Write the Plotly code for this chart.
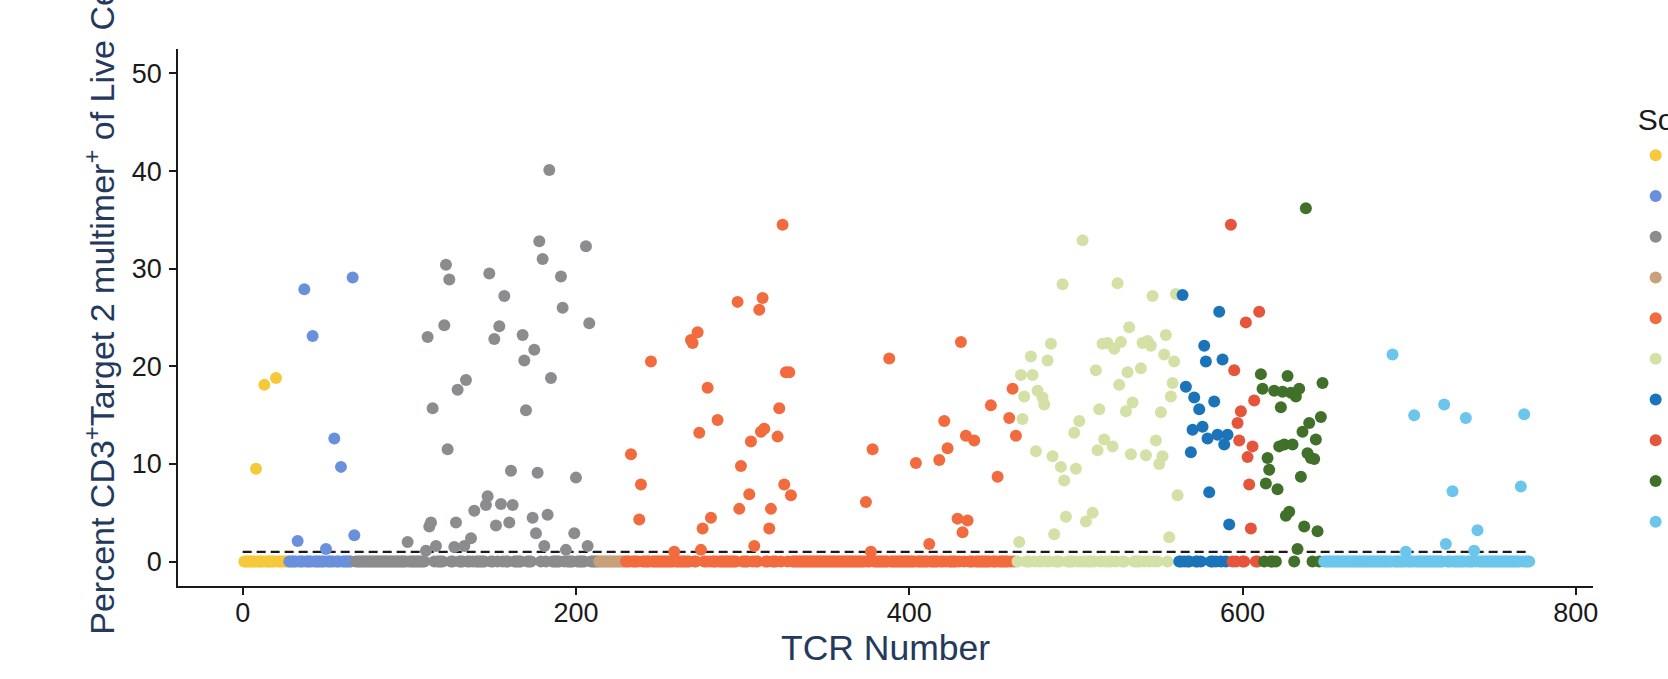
import plotly.graph_objects as go

# ---- data -------------------------------------------------------------
source_names = ["Source 1", "Source 2", "Source 3", "Source 4", "Source 5",
                "Source 6", "Source 7", "Source 8", "Source 9", "Source 10"]
source_colors = ["#F5C93A", "#6A90DC", "#8A8C8E", "#C8A07A", "#F26B3F",
                 "#D3E0A6", "#1B74B9", "#E5553C", "#41702A", "#6CC6EC"]

# percent CD3+Target 2 multimer+ of live cells, one value per TCR, in TCR order
pct_s1 = [0, 0, 0, 0, 0, 0, 0, 9.5, 0, 0,
          0, 0, 18.1, 0, 0, 0, 0, 0, 0, 18.8,
          0, 0, 0, 0, 0, 0, 0]
pct_s2 = [0, 0, 0, 0, 0, 2.1, 0, 0, 0, 27.9,
          0, 0, 0, 0, 23.1, 0, 0, 0, 0, 0,
          0, 0, 1.3, 0, 0, 0, 0, 12.6, 0, 0,
          0, 9.7, 0, 0, 0, 0, 0, 0, 29.1, 2.7]
pct_s3 = [0, 0, 0, 0, 0, 0, 0, 0, 0, 0,
          0, 0, 0, 0, 0, 0, 0, 0, 0, 0,
          0, 0, 0, 0, 0, 0, 0, 0, 0, 0,
          0, 2.0, 0, 0, 0, 0, 0, 0, 0, 0,
          0, 0, 1.1, 23.0, 3.6, 4.0, 15.7, 0, 1.6, 0,
          0, 0, 0, 24.2, 30.4, 11.5, 28.9, 0, 0, 1.5,
          4.0, 17.6, 0, 0, 0, 1.6, 18.6, 0, 0, 2.4,
          0, 5.2, 0, 0, 0, 0, 0, 0, 5.8, 6.7,
          29.5, 0, 0, 22.8, 3.7, 0, 24.1, 5.9, 0, 27.2,
          0, 0, 4.0, 9.3, 5.8, 0, 0, 0, 0, 0,
          23.2, 20.6, 15.5, 0, 0, 0, 4.5, 21.7, 2.9, 9.1,
          32.8, 0, 31.0, 1.6, 0, 4.8, 40.1, 18.8, 0, 0,
          0, 0, 0, 29.2, 26.0, 0, 1.2, 0, 0, 0,
          0, 2.9, 8.6, 0, 0, 0, 0, 0, 32.3, 1.6,
          24.4, 0, 0, 0, 0, 0]
pct_s4 = [0, 0, 0, 0, 0, 0, 0, 0, 0, 0,
          0, 0, 0, 0, 0, 0]
pct_s5 = [0, 0, 0, 11.0, 0, 0, 0, 0, 4.3, 7.9,
          0, 0, 0, 0, 0, 20.5, 0, 0, 0, 0,
          0, 0, 0, 0, 0, 0, 0, 0, 0, 1.0,
          0, 0, 0, 0, 0, 0, 0, 0, 0, 22.7,
          22.4, 0, 0, 23.5, 13.2, 1.2, 3.4, 0, 0, 17.8,
          0, 4.5, 0, 0, 0, 14.5, 0, 0, 0, 0,
          0, 0, 0, 0, 0, 0, 0, 26.6, 5.4, 9.8,
          0, 0, 0, 0, 6.9, 12.3, 0, 1.6, 0, 0,
          25.8, 13.3, 27.0, 13.6, 0, 0, 3.4, 5.4, 0, 0,
          0, 12.8, 15.7, 0, 34.5, 7.9, 19.4, 0, 19.4, 6.8,
          0, 0, 0, 0, 0, 0, 0, 0, 0, 0,
          0, 0, 0, 0, 0, 0, 0, 0, 0, 0,
          0, 0, 0, 0, 0, 0, 0, 0, 0, 0,
          0, 0, 0, 0, 0, 0, 0, 0, 0, 0,
          0, 0, 0, 0, 6.1, 0, 0, 1.0, 11.5, 0,
          0, 0, 0, 0, 0, 0, 0, 0, 20.8, 0,
          0, 0, 0, 0, 0, 0, 0, 0, 0, 0,
          0, 0, 0, 0, 10.1, 0, 0, 0, 0, 0,
          0, 0, 1.8, 0, 0, 0, 0, 0, 10.4, 0,
          0, 14.4, 0, 11.6, 0, 0, 0, 0, 0, 4.4,
          0, 22.5, 3.0, 0, 12.9, 4.2, 0, 0, 0, 12.4,
          0, 0, 0, 0, 0, 0, 0, 0, 0, 16.0,
          0, 0, 0, 8.7, 0, 0, 0, 0, 0, 0,
          14.7, 0, 17.7, 0, 12.9]
pct_s6 = [0, 2.0, 19.1, 14.6, 16.9, 0, 0, 0, 21.0, 19.1,
          0, 11.3, 17.5, 0, 0, 16.8, 16.1, 0, 20.6, 0,
          22.3, 10.8, 2.8, 0, 0, 0, 9.7, 28.4, 8.3, 4.6,
          0, 0, 0, 0, 13.2, 9.5, 0, 14.4, 0, 32.9,
          0, 4.1, 0, 0, 0, 5.0, 0, 19.6, 11.4, 15.6,
          0, 22.3, 12.5, 0, 22.4, 0, 0, 11.8, 21.8, 0,
          28.5, 18.1, 22.5, 0, 0, 15.4, 19.4, 24.0, 11.0, 16.3,
          0, 0, 0, 0, 19.8, 22.4, 0, 10.9, 22.6, 0,
          22.1, 27.2, 0, 12.4, 0, 10.0, 15.3, 10.8, 21.2, 23.2,
          0, 2.5, 16.9, 18.3, 20.5, 27.4, 6.8]
pct_s7 = [0, 0, 27.3, 0, 17.9, 0, 0, 11.2, 13.5, 16.8,
          0, 0, 15.6, 0, 13.8, 22.1, 20.5, 12.6, 7.1, 0,
          0, 16.4, 0, 13.0, 25.6, 0, 20.7, 12.0, 0, 13.0,
          3.8]
pct_s8 = [34.5, 0, 19.6, 0, 14.2, 12.4, 15.4, 0, 0, 24.5,
          10.7, 7.9, 3.4, 11.8, 16.5, 0, 0, 25.6]
pct_s9 = [19.2, 17.7, 0, 8.0, 10.6, 9.4, 0, 0, 17.5, 0,
          7.4, 11.8, 15.8, 17.4, 12.0, 4.7, 19.0, 5.1, 17.3, 12.0,
          0, 16.9, 1.3, 17.7, 8.7, 13.3, 3.6, 36.2, 11.1, 14.2,
          10.6, 0, 10.5, 12.5, 3.1, 0, 14.8, 18.3]
pct_s10 = [0, 0, 0, 0, 0, 0, 0, 0, 0, 0,
           0, 0, 0, 0, 0, 0, 0, 0, 0, 0,
           0, 0, 0, 0, 0, 0, 0, 0, 0, 0,
           0, 0, 0, 0, 0, 0, 0, 0, 0, 0,
           0, 21.2, 0, 0, 0, 0, 0, 0, 0, 1.0,
           0, 0, 0, 0, 15.0, 0, 0, 0, 0, 0,
           0, 0, 0, 0, 0, 0, 0, 0, 0, 0,
           0, 0, 16.1, 1.8, 0, 0, 0, 7.2, 0, 0,
           0, 0, 0, 0, 0, 14.7, 0, 0, 0, 0,
           1.1, 0, 3.2, 0, 0, 0, 0, 0, 0, 0,
           0, 0, 0, 0, 0, 0, 0, 0, 0, 0,
           0, 0, 0, 0, 0, 0, 0, 0, 7.7, 0,
           15.1, 0, 0, 0]

source_values = [pct_s1, pct_s2, pct_s3, pct_s4, pct_s5,
                 pct_s6, pct_s7, pct_s8, pct_s9, pct_s10]

threshold = 1.0
x_ticks = [0, 200, 400, 600, 800]
y_ticks = [0, 10, 20, 30, 40, 50]

# ---- figure -----------------------------------------------------------
FONT = "Liberation Sans, Arial, Helvetica, sans-serif"
INK = "#1a1a1a"
NAVY = "#24395C"

n_total = sum(len(v) for v in source_values)

fig = go.Figure()
fig.add_trace(go.Scatter(
    x=[0, n_total], y=[threshold, threshold], mode="lines",
    line=dict(color=INK, width=2.2, dash="9px,5px"),
    showlegend=False, hoverinfo="skip"))

start = 1
for name, color, vals in zip(source_names, source_colors, source_values):
    xs = list(range(start, start + len(vals)))
    fig.add_trace(go.Scatter(
        x=xs, y=vals, mode="markers", name=name,
        marker=dict(color=color, size=12, line=dict(width=0))))
    start += len(vals)

axis_common = dict(showgrid=False, zeroline=False, showline=True,
                   linecolor=INK, linewidth=1.7, ticks="outside",
                   ticklen=7, tickwidth=1.7, tickcolor=INK,
                   tickfont=dict(family=FONT, size=27, color=INK))

fig.update_layout(
    width=1668, height=679,
    margin=dict(l=178, r=75, t=49, b=93, autoexpand=False),
    paper_bgcolor="white", plot_bgcolor="white",
    font=dict(family=FONT, color=INK),
    xaxis=dict(range=[-38.8, 810.3], tickvals=x_ticks, ticklabelstandoff=-5,
               title=dict(text="TCR Number", standoff=7,
                          font=dict(family=FONT, size=35.5, color=NAVY)),
               **axis_common),
    yaxis=dict(range=[-2.5, 52.5], tickvals=y_ticks, ticklabelstandoff=2,
               **axis_common),
    legend=dict(title=dict(text="Source", font=dict(family=FONT, size=30, color=INK)),
                font=dict(family=FONT, size=29, color=INK),
                xref="container", yref="container",
                x=0.9806, xanchor="left", y=0.866, yanchor="top",
                maxheight=620,
                bgcolor="rgba(0,0,0,0)", borderwidth=0),
    annotations=[dict(
        text="Percent CD3<sup>+</sup>Target 2 multimer<sup>+</sup> of Live Cells",
        textangle=-90, xref="paper", yref="paper",
        x=-0.056, y=-0.095, xanchor="center", yanchor="bottom",
        showarrow=False, font=dict(family=FONT, size=34, color=NAVY))],
)

fig.write_html("out.html",
               config={"displayModeBar": False},
               post_script="document.body.style.margin='0';"
                           "document.body.style.overflow='hidden';")
